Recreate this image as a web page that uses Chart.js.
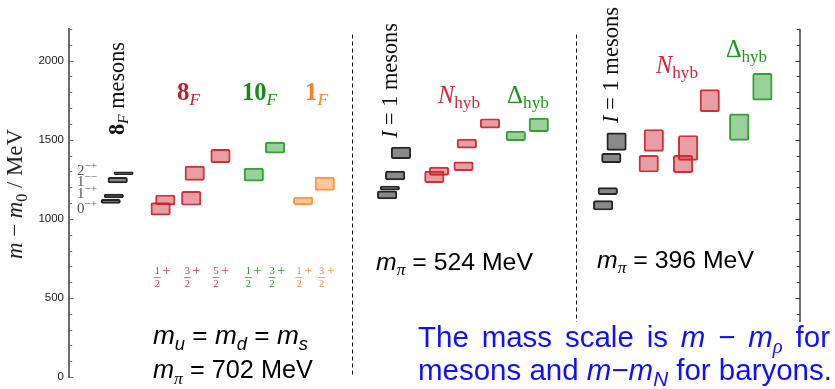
<!DOCTYPE html>
<html>
<head>
<meta charset="utf-8">
<script src="https://cdn.jsdelivr.net/npm/chart.js@4.4.0/dist/chart.umd.min.js"></script>
<style>
  html, body { margin: 0; padding: 0; background: #fff; }
</style>
</head>
<body>
<canvas id="levels" width="835" height="389"></canvas>
<script>
// box centres on the x axis (in box widths from the left axis), box bottom / top in MeV
const grayX  = [2.14, 2.30, 2.50, 2.80, 16.32, 16.46, 16.73, 17.03, 27.40, 27.64, 27.82, 28.09];
const grayLo = [1098, 1132, 1227, 1280, 1126, 1181, 1246, 1380, 1056, 1153, 1355, 1433];
const grayHi = [1124, 1157, 1262, 1298, 1177, 1208, 1302, 1453, 1116, 1198, 1414, 1544];

const redX  = [4.70, 4.94, 6.27, 6.45, 7.77, 18.74, 18.98, 20.24, 20.41, 21.60, 29.74, 30.00, 31.50, 31.76, 32.87];
const redLo = [1023, 1088, 1086, 1243, 1355, 1229, 1275, 1305, 1447, 1573, 1296, 1426, 1292, 1370, 1677];
const redHi = [1103, 1151, 1174, 1334, 1439, 1302, 1327, 1361, 1504, 1633, 1401, 1565, 1401, 1527, 1817];

const greenX  = [9.48, 10.57, 22.92, 24.10, 34.38, 35.57];
const greenLo = [1239, 1416, 1494, 1551, 1496, 1750];
const greenHi = [1321, 1485, 1554, 1637, 1664, 1920];

const orangeX  = [12.01, 13.12];
const orangeLo = [1090, 1180];
const orangeHi = [1138, 1264];

const dividerX = [14.52, 26.01];
const dividerTop = 2165;
const yTickValues = [0, 500, 1000, 1500, 2000];

const SERIF = '"Liberation Serif", serif';
const SANS = '"Liberation Sans", Arial, sans-serif';

const groups = [
  { x: grayX, lo: grayLo, hi: grayHi, fill: 'rgba(40,40,40,0.55)', line: '#262626' },
  { x: redX, lo: redLo, hi: redHi, fill: 'rgba(205,40,50,0.45)', line: 'rgba(200,30,40,0.9)' },
  { x: greenX, lo: greenLo, hi: greenHi, fill: 'rgba(30,150,30,0.45)', line: 'rgba(40,150,40,0.9)' },
  { x: orangeX, lo: orangeLo, hi: orangeHi, fill: 'rgba(255,140,40,0.45)', line: 'rgba(255,140,50,0.9)' }
];

const boxes = [], fills = [], lines = [];
groups.forEach(g => {
  g.x.forEach((x, i) => {
    boxes.push({ x: x, y: [g.lo[i], g.hi[i]] });
    fills.push(g.fill);
    lines.push(g.line);
  });
});

// small rich-text helper: segments with style / size factor / baseline shift
function S(t, o) { return Object.assign({ t: t, st: 'normal', k: 1, dy: 0, fam: null }, o || {}); }
const it = { st: 'italic' };
const sub = { k: 0.7, dy: 0.22 };
const isub = { st: 'italic', k: 0.7, dy: 0.22 };

function fontOf(g, size, fam) { return g.st + ' ' + (size * g.k).toFixed(2) + 'px ' + (g.fam || fam); }
function widthOf(ctx, segs, size, fam) {
  let w = 0;
  segs.forEach(g => { ctx.font = fontOf(g, size, fam); w += ctx.measureText(g.t).width; });
  return w;
}
function drawRich(ctx, segs, x, y, o) {
  let size = o.size;
  if (o.width) size *= o.width / widthOf(ctx, segs, size, o.fam);
  let extra = 0;
  if (o.justify) {
    const n = segs.filter(g => g.sp).length;
    extra = (o.justify - widthOf(ctx, segs, size, o.fam)) / n;
  }
  ctx.save();
  ctx.translate(x, y);
  if (o.rot) ctx.rotate(-Math.PI / 2);
  ctx.textAlign = 'left';
  ctx.textBaseline = 'alphabetic';
  let cx = 0;
  segs.forEach(g => {
    ctx.font = fontOf(g, size, o.fam);
    ctx.fillStyle = g.c || o.color;
    ctx.fillText(g.t, cx, g.dy * size);
    cx += ctx.measureText(g.t).width + (g.sp ? extra : 0);
  });
  ctx.restore();
  return size;
}

function drawFrac(ctx, cx, num, color) {
  ctx.save();
  ctx.fillStyle = color;
  ctx.strokeStyle = color;
  ctx.textAlign = 'center';
  ctx.textBaseline = 'alphabetic';
  ctx.font = '10.5px ' + SERIF;
  ctx.fillText(num, cx, 274.3);
  ctx.fillText('2', cx, 286.7);
  ctx.lineWidth = 0.8;
  ctx.beginPath();
  ctx.moveTo(cx - 3.5, 277.6);
  ctx.lineTo(cx + 3.5, 277.6);
  ctx.stroke();
  ctx.textAlign = 'left';
  ctx.font = '14px ' + SERIF;
  ctx.fillText('+', cx + 5.2, 274.8);
  ctx.restore();
}

const decor = {
  id: 'decor',
  afterDraw(chart) {
    const ctx = chart.ctx;
    const xs = chart.scales.x, ys = chart.scales.y;
    const area = chart.chartArea;

    // inward minor / major ticks on both sides, right axis line
    ctx.save();
    ctx.lineWidth = 1;
    for (let v = 0; v <= 2200; v += 100) {
      const py = Math.round(ys.getPixelForValue(v)) + 0.5;
      const len = v % 500 === 0 ? 4.5 : 3.2;
      ctx.strokeStyle = '#6b6b6b';
      ctx.beginPath();
      ctx.moveTo(area.left, py);
      ctx.lineTo(area.left + len, py);
      ctx.stroke();
      ctx.strokeStyle = '#333';
      ctx.beginPath();
      ctx.moveTo(area.right, py);
      ctx.lineTo(area.right - len, py);
      ctx.stroke();
    }
    ctx.strokeStyle = '#333';
    ctx.lineWidth = 1.4;
    ctx.beginPath();
    ctx.moveTo(area.right, area.top);
    ctx.lineTo(area.right, area.bottom);
    ctx.stroke();

    // dashed panel dividers
    ctx.lineWidth = 1;
    ctx.strokeStyle = '#111';
    ctx.setLineDash([4, 3]);
    dividerX.forEach(v => {
      const px = Math.round(xs.getPixelForValue(v)) + 0.5;
      ctx.beginPath();
      ctx.moveTo(px, ys.getPixelForValue(dividerTop));
      ctx.lineTo(px, area.bottom);
      ctx.stroke();
    });
    ctx.restore();

    // y axis title
    drawRich(ctx, [S('m', it), S(' \u2212 '), S('m', it), S('0', sub), S(' / MeV')], 21.5, 259,
      { size: 17, fam: SERIF, color: '#222', width: 130, rot: true });

    // rotated panel titles
    drawRich(ctx, [S('8', { st: 'bold' }), S('F', isub), S(' mesons')], 123.5, 135,
      { size: 17, fam: SERIF, color: '#111', width: 93, rot: true });
    drawRich(ctx, [S('I', it), S(' = 1 mesons')], 397, 138,
      { size: 17, fam: SERIF, color: '#111', width: 115, rot: true });
    drawRich(ctx, [S('I', it), S(' = 1 mesons')], 618, 123,
      { size: 17, fam: SERIF, color: '#111', width: 116, rot: true });

    // J^PC labels of the flavour octet mesons
    [['2', '\u2212+', 175], ['1', '\u2212\u2212', 186], ['1', '\u2212+', 198], ['0', '\u2212+', 213]].forEach(l => {
      drawRich(ctx, [S(l[0]), S(l[1], { k: 0.75, dy: -0.42 })], 77, l[2],
        { size: 12, fam: SERIF, color: '#555', width: 20 });
    });

    // flavour multiplet labels
    drawRich(ctx, [S('8', { st: 'bold' }), S('F', isub)], 177, 100, { size: 19, fam: SERIF, color: '#c41e2a', width: 23 });
    drawRich(ctx, [S('10', { st: 'bold' }), S('F', isub)], 242, 100, { size: 19, fam: SERIF, color: '#168a16', width: 35 });
    drawRich(ctx, [S('1', { st: 'bold' }), S('F', isub)], 305, 100, { size: 19, fam: SERIF, color: '#ff7f2a', width: 23 });

    // hybrid baryon labels
    const nh = [S('N', it), S('hyb', sub)];
    const dh = [S('\u0394'), S('hyb', sub)];
    drawRich(ctx, nh, 438, 103, { size: 19, fam: SERIF, color: '#cc2a3a', width: 42 });
    drawRich(ctx, dh, 507, 103, { size: 19, fam: SERIF, color: '#1f951f', width: 42 });
    drawRich(ctx, nh, 656, 73, { size: 19, fam: SERIF, color: '#cc2a3a', width: 42 });
    drawRich(ctx, dh, 726, 57, { size: 19, fam: SERIF, color: '#1f951f', width: 41 });

    // spin-parity fractions
    [[157.3, '1', '#cf3d48'], [187.3, '3', '#cf3d48'], [216, '5', '#cf3d48'],
     [248.3, '1', '#2a962a'], [272, '3', '#2a962a'],
     [299, '1', '#ff8a3d'], [321.7, '3', '#ff8a3d']].forEach(f => drawFrac(ctx, f[0], f[1], f[2]));

    // quark / pion mass notes
    const piSub = { st: 'italic', k: 0.7, dy: 0.22, fam: SERIF };
    drawRich(ctx, [S('m', it), S('u', isub), S(' = '), S('m', it), S('d', isub), S(' = '), S('m', it), S('s', isub)],
      153, 344, { size: 22, fam: SANS, color: '#000', width: 155 });
    drawRich(ctx, [S('m', it), S('\u03c0', piSub), S(' = 702 MeV')], 153, 378, { size: 22, fam: SANS, color: '#000', width: 160 });
    drawRich(ctx, [S('m', it), S('\u03c0', piSub), S(' = 524 MeV')], 376, 270, { size: 22, fam: SANS, color: '#000', width: 157 });
    drawRich(ctx, [S('m', it), S('\u03c0', piSub), S(' = 396 MeV')], 597, 268, { size: 22, fam: SANS, color: '#000', width: 157 });

    // blue note, white box behind it
    ctx.save();
    ctx.fillStyle = '#fff';
    ctx.fillRect(408, 322, 427, 67);
    ctx.restore();
    const sp = S(' ', { sp: true });
    const line2 = [S('mesons and '), S('m', it), S('\u2212'), S('m', it), S('N', isub), S(' for baryons.')];
    const blueSize = drawRich(ctx, line2, 418, 380, { size: 24, fam: SANS, color: '#1010ff', width: 414 });
    const line1 = [S('The'), sp, S('mass'), sp, S('scale'), sp, S('is'), sp, S('m', it), sp, S('\u2212'), sp,
      S('m', it), S('\u03c1', { st: 'italic', k: 0.7, dy: 0.22, fam: SERIF }), sp, S('for')];
    drawRich(ctx, line1, 418, 346.7, { size: blueSize, fam: SANS, color: '#1010ff', justify: 412 });
  }
};

new Chart(document.getElementById('levels'), {
  type: 'bar',
  data: {
    datasets: [{
      data: boxes,
      backgroundColor: fills,
      borderColor: lines,
      borderWidth: 1.3,
      borderRadius: 2,
      borderSkipped: false,
      barThickness: 19.5
    }]
  },
  options: {
    responsive: false,
    animation: false,
    layout: { padding: { left: 0, right: 35, top: 29, bottom: 11 } },
    plugins: { legend: { display: false }, tooltip: { enabled: false } },
    scales: {
      x: { type: 'linear', min: 0, max: 37.5, display: false, offset: false },
      y: {
        min: 0,
        max: 2200,
        afterFit(s) { s.width = 69; },
        afterBuildTicks(s) { s.ticks = yTickValues.map(v => ({ value: v })); },
        grid: { display: false, drawTicks: false },
        border: { display: true, color: '#6b6b6b', width: 2 },
        ticks: { padding: 5, color: '#222', font: { family: SANS, size: 11.5 }, callback: v => String(v) }
      }
    }
  },
  plugins: [decor]
});
</script>
</body>
</html>
